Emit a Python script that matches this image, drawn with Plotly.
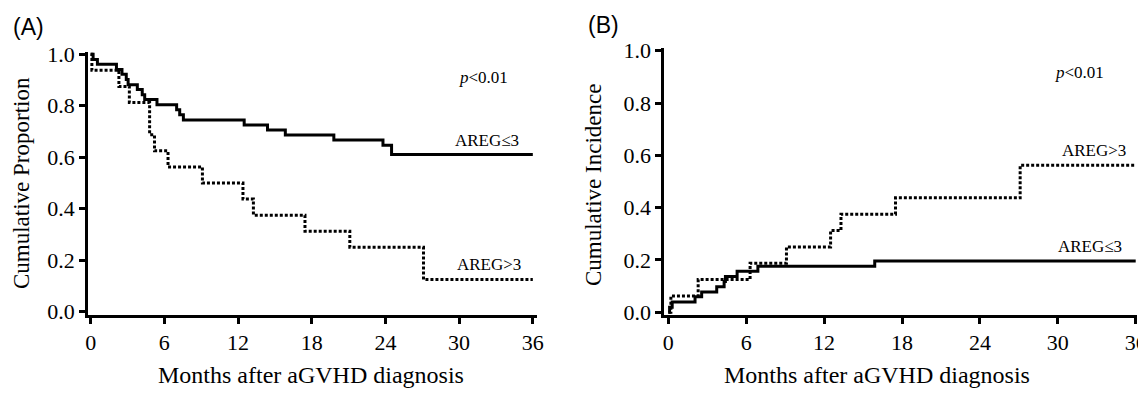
import plotly.graph_objects as go

# ---- Data ----
# Panel A: cumulative proportion (Kaplan-Meier)
a_low_t = [0, 0.2, 0.55, 2.1, 2.55, 2.9, 3.05, 3.8, 4.2, 4.4, 5.4, 7.0, 7.25, 7.55, 12.5, 14.4, 15.85, 19.8, 23.8, 24.5, 36]
a_low_v = [1.0, 0.98, 0.961, 0.941, 0.922, 0.902, 0.882, 0.863, 0.843, 0.824, 0.804, 0.784, 0.765, 0.745, 0.725, 0.706, 0.686, 0.667, 0.647, 0.611, 0.611]
a_high_t = [0, 0.1, 2.3, 3.15, 4.8, 5.2, 6.3, 9.1, 12.4, 13.25, 17.45, 21.1, 27.1, 36]
a_high_v = [1.0, 0.9375, 0.875, 0.8125, 0.6875, 0.625, 0.5625, 0.5, 0.4375, 0.375, 0.3125, 0.25, 0.125, 0.125]

# Panel B: cumulative incidence
b_low_t = [0, 0.1, 0.3, 2.06, 2.57, 3.73, 4.3, 4.4, 5.3, 6.9, 15.9, 36]
b_low_v = [0, 0.0196, 0.039, 0.059, 0.078, 0.098, 0.118, 0.137, 0.157, 0.176, 0.196, 0.196]
b_high_t = [0, 0.2, 2.3, 6.3, 9.1, 12.5, 13.3, 17.5, 27.1, 36]
b_high_v = [0, 0.0625, 0.125, 0.1875, 0.25, 0.3125, 0.375, 0.4375, 0.5625, 0.5625]

x_ticks = [0, 6, 12, 18, 24, 30, 36]
x_ticktext = ["0", "6", "12", "18", "24", "30", "36"]
y_ticks = [0, 0.2, 0.4, 0.6, 0.8, 1.0]
y_ticktext = ["0.0", "0.2", "0.4", "0.6", "0.8", "1.0"]

label_low = "AREG\u22643"
label_high = "AREG&gt;3"
p_text = "<i>p</i>&lt;0.01"
x_title = "Months after aGVHD diagnosis"
y_title_a = "Cumulative Proportion"
y_title_b = "Cumulative Incidence"

# ---- Layout helpers ----
W, H = 1146, 393
OFF = 8  # page body margin offset
def px(x):
    return (x - OFF) / W
def py(y):
    return 1 - (y - OFF) / H

SERIF = "Liberation Serif, Times New Roman, serif"
SANS = "Liberation Sans, Arial, sans-serif"

fig = go.Figure()

solid = dict(color="black", width=3)
dotted = dict(color="black", width=3, dash="3px,2px")

fig.add_trace(go.Scatter(x=a_low_t, y=a_low_v, mode="lines", line=solid, line_shape="hv",
                         xaxis="x", yaxis="y", showlegend=False, name="AREG<=3"))
fig.add_trace(go.Scatter(x=a_high_t, y=a_high_v, mode="lines", line=dotted, line_shape="hv",
                         xaxis="x", yaxis="y", showlegend=False, name="AREG>3"))
fig.add_trace(go.Scatter(x=b_low_t, y=b_low_v, mode="lines", line=solid, line_shape="hv",
                         xaxis="x2", yaxis="y2", showlegend=False, name="AREG<=3"))
fig.add_trace(go.Scatter(x=b_high_t, y=b_high_v, mode="lines", line=dotted, line_shape="hv",
                         xaxis="x2", yaxis="y2", showlegend=False, name="AREG>3"))

tickfont = dict(family=SERIF, size=22, color="black")
common_x = dict(tickmode="array", tickvals=x_ticks, ticktext=x_ticktext, showgrid=False,
                zeroline=False, showline=True, linecolor="black", linewidth=3,
                ticks="outside", ticklen=6, tickwidth=2.5, tickcolor="black",
                tickfont=tickfont, fixedrange=True, automargin=False)
common_y = dict(tickmode="array", tickvals=y_ticks, ticktext=y_ticktext, showgrid=False,
                zeroline=False, showline=True, linecolor="black", linewidth=3,
                ticks="outside", ticklen=6, tickwidth=2.5, tickcolor="black",
                tickfont=tickfont, fixedrange=True, automargin=False)

fig.update_layout(
    width=W, height=H,
    margin=dict(l=0, r=0, t=0, b=0, pad=0, autoexpand=False),
    paper_bgcolor="white", plot_bgcolor="white",
    xaxis=dict(common_x, domain=[px(88.2), px(536.5)], range=[-0.2, 36.3], anchor="y"),
    yaxis=dict(common_y, domain=[py(314.5), py(51.7)], range=[-0.011, 1.01], anchor="x"),
    xaxis2=dict(common_x, domain=[px(664.4), px(1137.0)], range=[-0.3, 36.1], anchor="y2"),
    yaxis2=dict(common_y, domain=[py(314.9), py(48.1)], range=[-0.01, 1.01], anchor="x2"),
)

ann_font = dict(family=SERIF, size=17, color="black")
title_font = dict(family=SERIF, size=24, color="black")
ytitle_font = dict(family=SERIF, size=23, color="black")
C = dict(showarrow=False, xanchor="center", yanchor="middle")
annotations = [
    # in-plot labels
    dict(C, x=32.0, y=0.91, xref="x", yref="y", text=p_text, font=ann_font),
    dict(C, x=32.3, y=0.665, xref="x", yref="y", text=label_low, font=ann_font),
    dict(C, x=32.4, y=0.185, xref="x", yref="y", text=label_high, font=ann_font),
    dict(C, x=31.7, y=0.917, xref="x2", yref="y2", text=p_text, font=ann_font),
    dict(C, x=32.8, y=0.618, xref="x2", yref="y2", text=label_high, font=ann_font),
    dict(C, x=32.5, y=0.251, xref="x2", yref="y2", text=label_low, font=ann_font),
    # axis titles
    dict(C, x=px(311), y=py(375), xref="paper", yref="paper", text=x_title, font=title_font),
    dict(C, x=px(877), y=py(375), xref="paper", yref="paper", text=x_title, font=title_font),
    dict(C, x=px(21), y=py(183), xref="paper", yref="paper", text=y_title_a, textangle=-90, font=ytitle_font),
    dict(C, x=px(593), y=py(185), xref="paper", yref="paper", text=y_title_b, textangle=-90, font=ytitle_font),
    # panel labels
    dict(C, x=px(28), y=py(27), xref="paper", yref="paper", text="(A)",
         font=dict(family=SANS, size=23, color="black")),
    dict(C, x=px(603), y=py(25), xref="paper", yref="paper", text="(B)",
         font=dict(family=SANS, size=23, color="black")),
]
fig.update_layout(annotations=annotations)

fig.write_html("out.html")
